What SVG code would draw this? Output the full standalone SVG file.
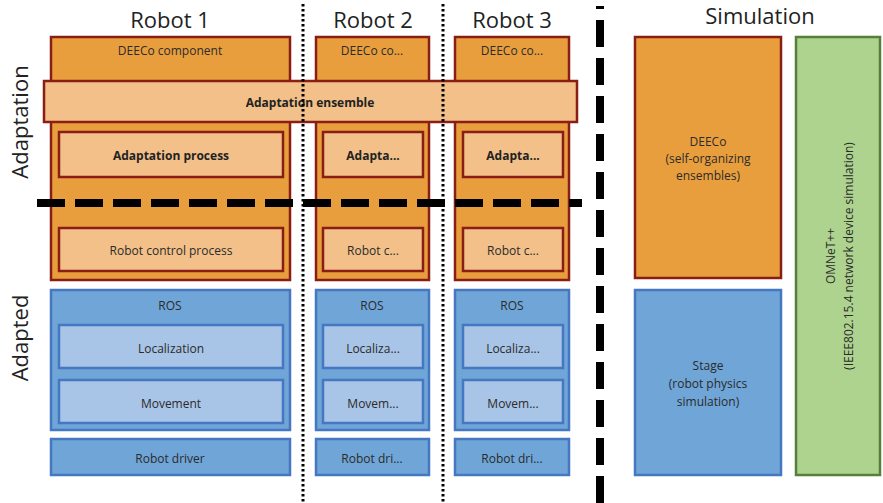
<svg xmlns="http://www.w3.org/2000/svg" width="883" height="503" viewBox="0 0 883 503">
<style>
.title{font-family:"Open Sans","Liberation Sans",sans-serif;font-size:22px;fill:#222;text-anchor:middle}
.lbl{font-family:"Open Sans","Liberation Sans",sans-serif;font-size:12px;fill:#2b2b2b;text-anchor:middle;dominant-baseline:central}
.b{font-weight:bold;fill:#222}
.org{fill:#E99E3D;stroke:#8B1E14;stroke-width:2.5}
.lorg{fill:#F2C088;stroke:#8B1E14;stroke-width:2.5}
.blu{fill:#6FA5D7;stroke:#4577C3;stroke-width:2.5}
.lblu{fill:#A8C4E6;stroke:#4577C3;stroke-width:2.5}
.grn{fill:#AED38F;stroke:#55803A;stroke-width:2.5}
</style>
<rect width="883" height="503" fill="#fff"/>
<g id="titles">
<text class="title" x="170" y="28">Robot 1</text>
<text class="title" x="373" y="28">Robot 2</text>
<text class="title" x="512" y="28">Robot 3</text>
<text class="title" x="760" y="24">Simulation</text>
<text class="title" transform="translate(28,122) rotate(-90)">Adaptation</text>
<text class="title" transform="translate(28,338) rotate(-90)">Adapted</text>
</g>
<g id="robot1">
<rect class="org" x="51" y="37" width="239" height="243"/>
<text class="lbl" x="170" y="50">DEECo component</text>
<rect class="lorg" x="59" y="132" width="224" height="45"/>
<text class="lbl b" x="171" y="155">Adaptation process</text>
<rect class="lorg" x="59" y="228" width="224" height="43"/>
<text class="lbl" x="171" y="250">Robot control process</text>
<rect class="blu" x="51" y="290" width="239" height="140"/>
<text class="lbl" x="170" y="305">ROS</text>
<rect class="lblu" x="59" y="325" width="224" height="43"/>
<text class="lbl" x="171" y="348">Localization</text>
<rect class="lblu" x="59" y="380" width="224" height="43"/>
<text class="lbl" x="171" y="403">Movement</text>
<rect class="blu" x="51" y="439" width="239" height="36"/>
<text class="lbl" x="170" y="458">Robot driver</text>
</g>
<g id="robot2">
<rect class="org" x="316" y="37" width="113" height="243"/>
<text class="lbl" x="372" y="50">DEECo co...</text>
<rect class="lorg" x="323" y="132" width="100" height="45"/>
<text class="lbl b" x="373" y="155">Adapta...</text>
<rect class="lorg" x="323" y="228" width="100" height="43"/>
<text class="lbl" x="373" y="250">Robot c...</text>
<rect class="blu" x="316" y="290" width="113" height="140"/>
<text class="lbl" x="372" y="305">ROS</text>
<rect class="lblu" x="323" y="325" width="100" height="43"/>
<text class="lbl" x="373" y="348">Localiza...</text>
<rect class="lblu" x="323" y="380" width="100" height="43"/>
<text class="lbl" x="373" y="403">Movem...</text>
<rect class="blu" x="316" y="439" width="113" height="36"/>
<text class="lbl" x="372" y="458">Robot dri...</text>
</g>
<g id="robot3">
<rect class="org" x="455" y="37" width="114" height="243"/>
<text class="lbl" x="512" y="50">DEECo co...</text>
<rect class="lorg" x="463" y="132" width="100" height="45"/>
<text class="lbl b" x="513" y="155">Adapta...</text>
<rect class="lorg" x="463" y="228" width="100" height="43"/>
<text class="lbl" x="513" y="250">Robot c...</text>
<rect class="blu" x="455" y="290" width="114" height="140"/>
<text class="lbl" x="512" y="305">ROS</text>
<rect class="lblu" x="463" y="325" width="100" height="43"/>
<text class="lbl" x="513" y="348">Localiza...</text>
<rect class="lblu" x="463" y="380" width="100" height="43"/>
<text class="lbl" x="513" y="403">Movem...</text>
<rect class="blu" x="455" y="439" width="114" height="36"/>
<text class="lbl" x="512" y="458">Robot dri...</text>
</g>
<g id="ensemble">
<rect class="lorg" x="44" y="81" width="533" height="41"/>
<text class="lbl b" x="310" y="102">Adaptation ensemble</text>
</g>
<g id="simulation">
<rect class="org" x="635" y="37" width="146" height="241"/>
<text class="lbl" x="708" y="141">DEECo</text>
<text class="lbl" x="708" y="158">(self-organizing</text>
<text class="lbl" x="708" y="175">ensembles)</text>
<rect class="blu" x="635" y="290" width="146" height="185"/>
<text class="lbl" x="708" y="365">Stage</text>
<text class="lbl" x="708" y="383">(robot physics</text>
<text class="lbl" x="708" y="401">simulation)</text>
<rect class="grn" x="796" y="37" width="84" height="438"/>
<text class="lbl" transform="translate(830,256) rotate(-90)">OMNeT++</text>
<text class="lbl" transform="translate(848,256) rotate(-90)">(IEEE802.15.4 network device simulation)</text>
</g>
<g id="connectors" fill="none" stroke="#000">
<line x1="303" y1="4" x2="303" y2="503" stroke-width="3" stroke-dasharray="2.5 2.5"/>
<line x1="443" y1="4" x2="443" y2="503" stroke-width="3" stroke-dasharray="2.5 2.5"/>
<line x1="37" y1="203" x2="582" y2="203" stroke-width="8" stroke-dasharray="28 10"/>
<line x1="600" y1="6" x2="600" y2="503" stroke-width="8" stroke-dasharray="3 11 27 11 27 11 27 11 27 11 27 11 27 11 27 11 27 11 27 11 27 11 27 11 27 11 27 11"/>
</g>
</svg>
